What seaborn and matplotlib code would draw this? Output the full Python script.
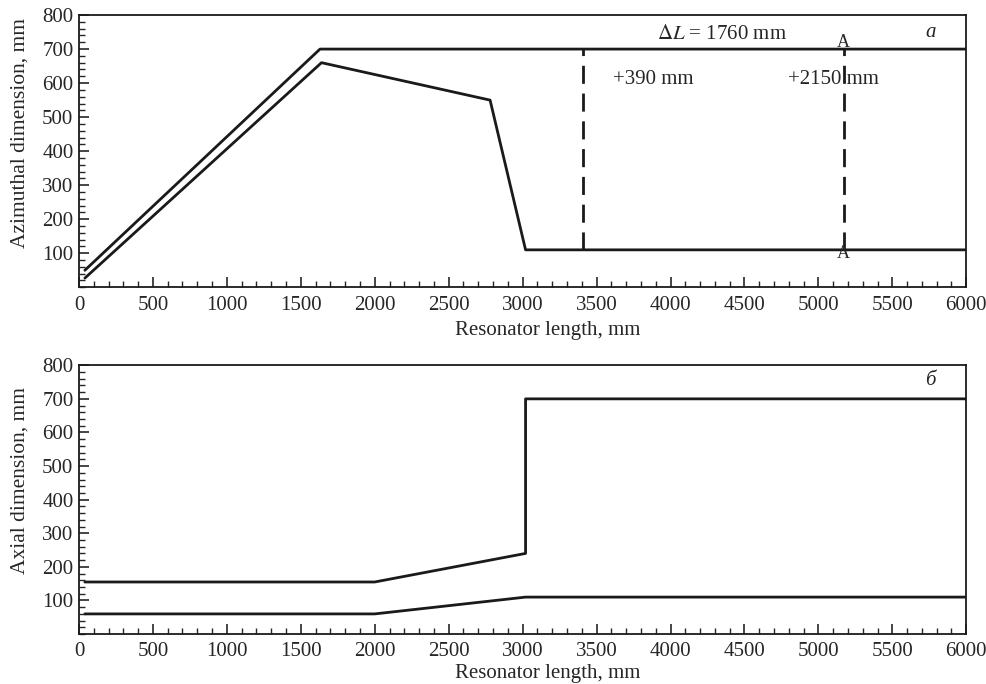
import numpy as np
import pandas as pd
import seaborn as sns
import matplotlib
matplotlib.use("Agg")
import matplotlib.pyplot as plt
from matplotlib.ticker import MultipleLocator

# panel a: azimuthal dimension
az_outer_x = [40, 1630, 6000]
az_outer_y = [50, 700, 700]
az_inner_x = [40, 1640, 2780, 3020, 6000]
az_inner_y = [27, 660, 550, 110, 110]
cut_x = [3410, 5170]   # dashed cut positions
cut_y = [110, 700]

# panel b: axial dimension
ax_upper_x = [40, 2000, 3020, 3020, 6000]
ax_upper_y = [155, 155, 240, 700, 700]
ax_lower_x = [40, 2000, 3020, 6000]
ax_lower_y = [60, 60, 110, 110]

sns.set_style("ticks")
plt.rcParams['font.family'] = ['Liberation Serif', 'DejaVu Serif']
plt.rcParams['mathtext.fontset'] = 'stix'
FS = 15

fig = plt.figure(figsize=(9.87, 6.84), dpi=100)
ax1 = fig.add_axes([0.080, 0.580, 0.899, 0.398])
ax2 = fig.add_axes([0.080, 0.073, 0.899, 0.393])

lw = 2.0
col = '#1a1a1a'
sns.lineplot(x=az_outer_x, y=az_outer_y, sort=False, estimator=None, color=col, lw=lw, ax=ax1)
sns.lineplot(x=az_inner_x, y=az_inner_y, sort=False, estimator=None, color=col, lw=lw, ax=ax1)
for cx in cut_x:
    sns.lineplot(x=[cx, cx], y=cut_y, sort=False, estimator=None, color=col, lw=lw,
                 linestyle=(0, (6.5, 3.5)), ax=ax1)

sns.lineplot(x=ax_upper_x, y=ax_upper_y, sort=False, estimator=None, color=col, lw=lw, ax=ax2)
sns.lineplot(x=ax_lower_x, y=ax_lower_y, sort=False, estimator=None, color=col, lw=lw, ax=ax2)

ax1.text(4350, 742, r'$\Delta$' + r'$L$' + ' = 1760 mm', fontsize=FS, ha='center', va='center')
ax1.text(3612, 612, '+390 mm', fontsize=FS, ha='left', va='center')
ax1.text(4796, 612, '+2150 mm', fontsize=FS, ha='left', va='center')
ax1.text(cut_x[1], 720, 'A', fontsize=FS - 2, ha='center', va='center')
ax1.text(cut_x[1], 100, 'A', fontsize=FS - 2, ha='center', va='center')
ax1.text(5760, 748, 'a', fontsize=FS, style='italic', ha='center', va='center')
ax2.text(5760, 756, 'б', fontsize=FS, style='italic', ha='center', va='center')

for ax, ylab, ly in [(ax1, 'Azimuthal dimension, mm', 0.566), (ax2, 'Axial dimension, mm', 0.572)]:
    ax.set_xlim(0, 6000)
    ax.set_ylim(0, 800)
    ax.xaxis.set_major_locator(MultipleLocator(500))
    ax.xaxis.set_minor_locator(MultipleLocator(100))
    ax.set_yticks([100, 200, 300, 400, 500, 600, 700, 800])
    ax.yaxis.set_minor_locator(MultipleLocator(20))
    ax.tick_params(which='major', direction='in', length=7, width=1.2, labelsize=FS)
    ax.tick_params(axis='x', which='major', pad=6)
    ax.tick_params(axis='y', which='major', pad=4)
    ax.tick_params(which='minor', direction='in', length=4, width=1.0)
    ax.set_xlabel('Resonator length, mm', fontsize=FS)
    ax.set_ylabel(ylab, fontsize=15.5)
    ax.yaxis.set_label_coords(-0.056, ly)
    for s in ax.spines.values():
        s.set_linewidth(1.3)
        s.set_color(col)

ax1.xaxis.set_label_coords(0.528, -0.124)
ax2.xaxis.set_label_coords(0.528, -0.112)

fig.savefig('out.png', dpi=100)
